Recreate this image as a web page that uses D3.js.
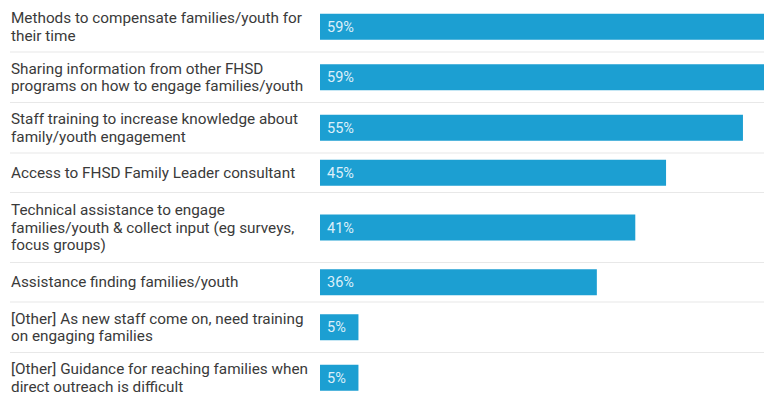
<!DOCTYPE html>
<html>
<head>
<meta charset="utf-8">
<script src="https://cdn.jsdelivr.net/npm/d3@7"></script>
<style>
  html, body { margin: 0; padding: 0; background: #fff; }
  svg { display: block; }
</style>
</head>
<body>
<svg id="chart" width="764" height="396"></svg>
<script>
// Each category is stored as its wrapped lines of text
const categories = [
  ["Methods to compensate families/youth for", "their time"],
  ["Sharing information from other FHSD", "programs on how to engage families/youth"],
  ["Staff training to increase knowledge about", "family/youth engagement"],
  ["Access to FHSD Family Leader consultant"],
  ["Technical assistance to engage", "families/youth & collect input (eg surveys,", "focus groups)"],
  ["Assistance finding families/youth"],
  ["[Other] As new staff come on, need training", "on engaging families"],
  ["[Other] Guidance for reaching families when", "direct outreach is difficult"]
];
const values = [59, 59, 55, 45, 41, 36, 5, 5];

(function draw() {
  const width = 764;
  const svg = d3.select("#chart");

  const lineH = 17.5;
  const barH = 26;
  const startY = 1.5;
  const labelX = 11;

  // Row height grows with the number of label lines
  const rowH = n => Math.max(39.5, 11.5 + n * 19.5);
  const rows = [];
  let y = startY;
  categories.forEach((lines, i) => {
    const h = rowH(lines.length);
    rows.push({ lines, value: values[i], y0: y, h, cy: y + h / 2 });
    y += h;
  });

  const x = d3.scaleLinear().domain([0, 100]).range([320, 320 + 769]);

  const g = svg.append("g");

  // Row separators
  g.selectAll("line.sep")
    .data(rows)
    .join("line")
    .attr("class", "sep")
    .attr("x1", 10)
    .attr("x2", width)
    .attr("y1", d => d.y0 + d.h)
    .attr("y2", d => d.y0 + d.h)
    .attr("stroke", "#e8e8e8")
    .attr("stroke-width", 1.2);

  // Category labels
  const labels = g.selectAll("text.cat")
    .data(rows)
    .join("text")
    .attr("class", "cat")
    .attr("font-family", "Roboto, 'Noto Sans', sans-serif")
    .attr("font-size", 15.3)
    .attr("fill", "#3a3a3a");

  labels.selectAll("tspan")
    .data(d => d.lines.map((t, j) => ({ t, j, n: d.lines.length, cy: d.cy })))
    .join("tspan")
    .attr("x", labelX)
    .attr("y", d => d.cy + (d.j - (d.n - 1) / 2) * lineH + 5)
    .text(d => d.t);

  // Bars
  g.selectAll("rect.bar")
    .data(rows)
    .join("rect")
    .attr("class", "bar")
    .attr("x", x(0))
    .attr("y", d => d.cy - barH / 2)
    .attr("width", d => x(d.value) - x(0))
    .attr("height", barH)
    .attr("fill", "#1c9fd2");

  // Value labels inside bars
  g.selectAll("text.val")
    .data(rows)
    .join("text")
    .attr("class", "val")
    .attr("x", x(0) + 7)
    .attr("y", d => d.cy + 5)
    .attr("font-family", "Roboto, 'Noto Sans', sans-serif")
    .attr("font-size", 14.5)
    .attr("fill", "#dcf0fa")
    .text(d => d.value + "%");
})();
</script>
</body>
</html>
